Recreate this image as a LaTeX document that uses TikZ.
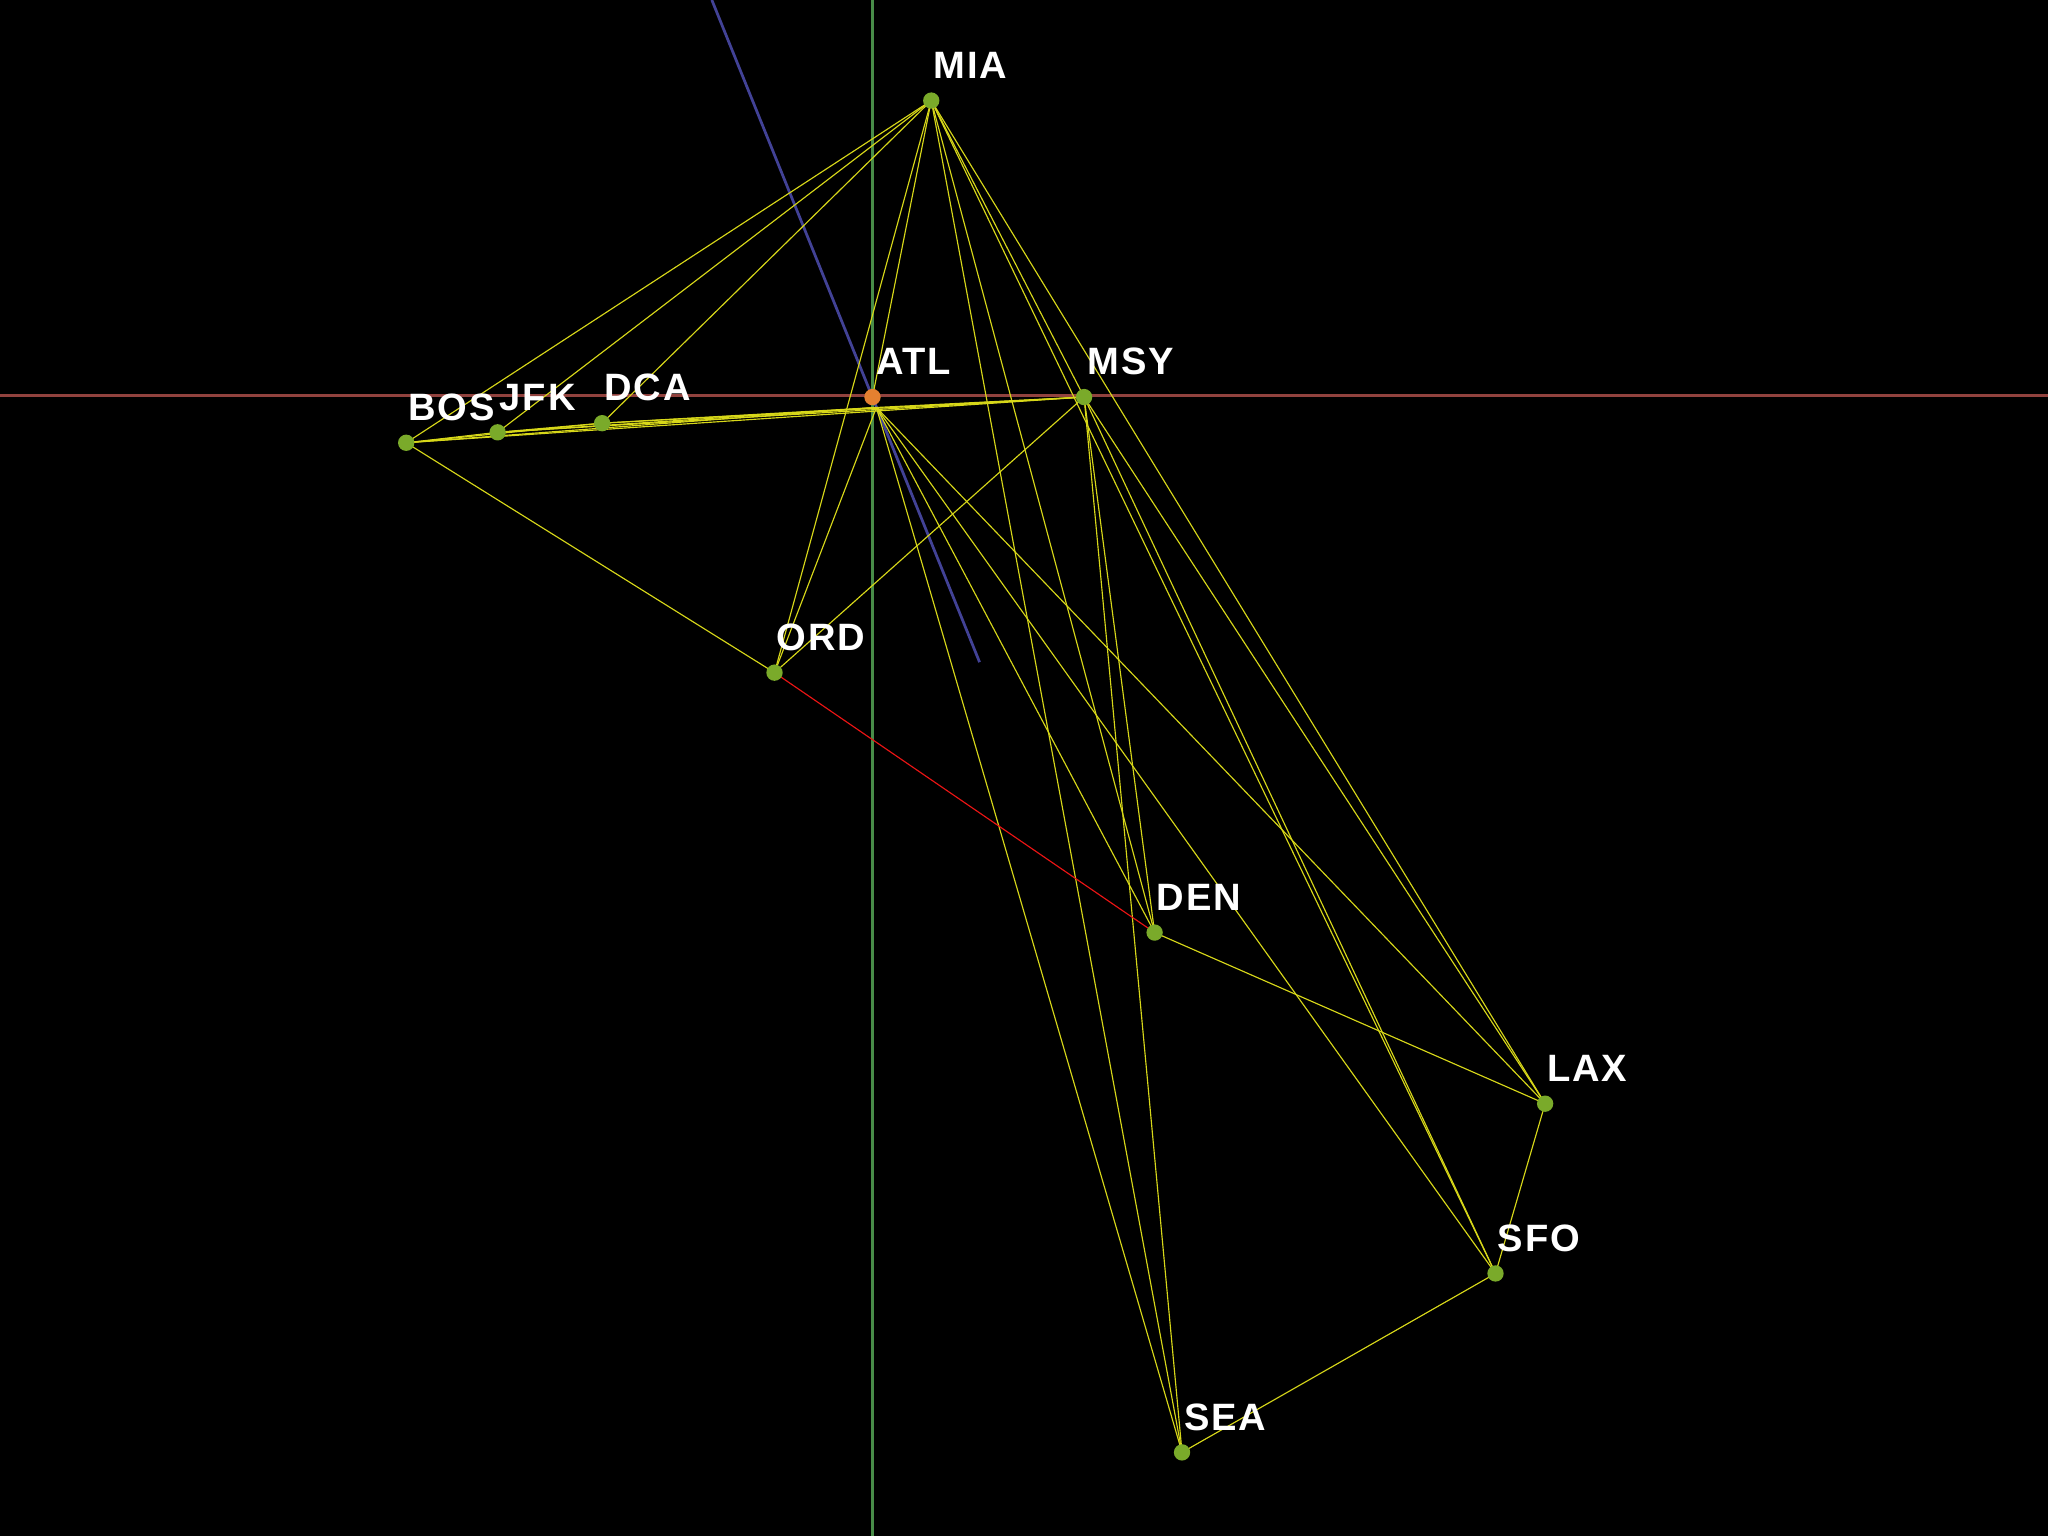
\documentclass[tikz,border=0pt]{standalone}
\usepackage{fontspec}
\newfontfamily\lblfont{Liberation Sans}[LetterSpace=5]
\definecolor{edgeyellow}{RGB}{215,215,25}
\definecolor{aptgreen}{RGB}{122,170,42}
\definecolor{huborange}{RGB}{228,128,48}
\definecolor{axisred}{RGB}{145,66,62}
\definecolor{axisgreen}{RGB}{72,140,72}
\definecolor{axisblue}{RGB}{66,66,150}
\definecolor{pathred}{RGB}{235,20,20}
\pgfdeclarelayer{bg}
\pgfdeclarelayer{axes}
\pgfdeclarelayer{edges}
\pgfsetlayers{bg,axes,edges,main}
\begin{document}
\begin{tikzpicture}[x=0.01cm,y=-0.01cm,
  edge/.style={draw=edgeyellow, line width=0.25pt},
  pathedge/.style={draw=pathred, line width=0.25pt},
  axis/.style={line width=0.45pt},
  apt/.style={circle, fill=aptgreen, inner sep=0pt, minimum size=0.125cm},
  hub/.style={apt, fill=huborange},
  lbl/.style={text=white, font=\lblfont\bfseries\fontsize{8.3}{10}\selectfont, anchor=base west, inner sep=0pt}]
\begin{pgfonlayer}{bg}
\fill[black] (0,0) rectangle (1568,1176);
\end{pgfonlayer}
\useasboundingbox (0,0) rectangle (1568,1176);
% airports
\node[apt] (MIA) at (713,77) {};
\node[hub] (ATL) at (668,304) {};
\node[apt] (MSY) at (830,304) {};
\node[apt] (BOS) at (311,339) {};
\node[apt] (JFK) at (381,331) {};
\node[apt] (DCA) at (461,324) {};
\node[apt] (ORD) at (593,515) {};
\node[apt] (DEN) at (884,714) {};
\node[apt] (LAX) at (1183,845) {};
\node[apt] (SFO) at (1145,975) {};
\node[apt] (SEA) at (905,1112) {};
\coordinate (atlx) at (671,312);
% labels
\node[lbl] (MIAl) at (714,60) {MIA};
\node[lbl] (ATLl) at (670,287) {ATL};
\node[lbl] (MSYl) at (832,287) {MSY};
\node[lbl] (BOSl) at (312,322) {BOS};
\node[lbl] (JFKl) at (382,314) {JFK};
\node[lbl] (DCAl) at (462,307) {DCA};
\node[lbl] (ORDl) at (594,498) {ORD};
\node[lbl] (DENl) at (885,697) {DEN};
\node[lbl] (LAXl) at (1184,828) {LAX};
\node[lbl] (SFOl) at (1146,958) {SFO};
\node[lbl] (SEAl) at (906,1095) {SEA};
% axes
\begin{pgfonlayer}{axes}
\coordinate (xl) at (0,303); \coordinate (xr) at (1568,303);
\coordinate (yt) at (668,0); \coordinate (yb) at (668,1176);
\coordinate (zt) at (545,0); \coordinate (zb) at (750,507);
\draw[axis, axisred, line width=0.55pt] (xl) -- (xr);
\draw[axis, axisgreen] (yt) -- (yb);
\draw[axis, axisblue, line width=0.6pt] (zt) -- (zb);
\end{pgfonlayer}
% routes
\begin{pgfonlayer}{edges}
\foreach \t in {BOS,JFK,DCA,ORD,ATL,SEA,DEN,SFO,MSY,LAX}
  \draw[edge] (MIA.center) -- (\t.center);
\foreach \t in {BOS,JFK,DCA,MSY,ORD,DEN,LAX,SFO,SEA}
  \draw[edge] (atlx) -- (\t.center);
\foreach \t in {BOS,JFK,DCA,ORD,DEN,SEA,SFO,LAX}
  \draw[edge] (MSY.center) -- (\t.center);
\draw[edge] (BOS.center) -- (JFK.center);
\draw[edge] (JFK.center) -- (DCA.center);
\draw[edge] (BOS.center) -- (DCA.center);
\draw[edge] (BOS.center) -- (ORD.center);
\draw[edge] (DEN.center) -- (LAX.center);
\draw[edge] (LAX.center) -- (SFO.center);
\draw[edge] (SFO.center) -- (SEA.center);
\draw[pathedge] (ORD.center) -- (DEN.center);
\end{pgfonlayer}
\end{tikzpicture}
\end{document}
